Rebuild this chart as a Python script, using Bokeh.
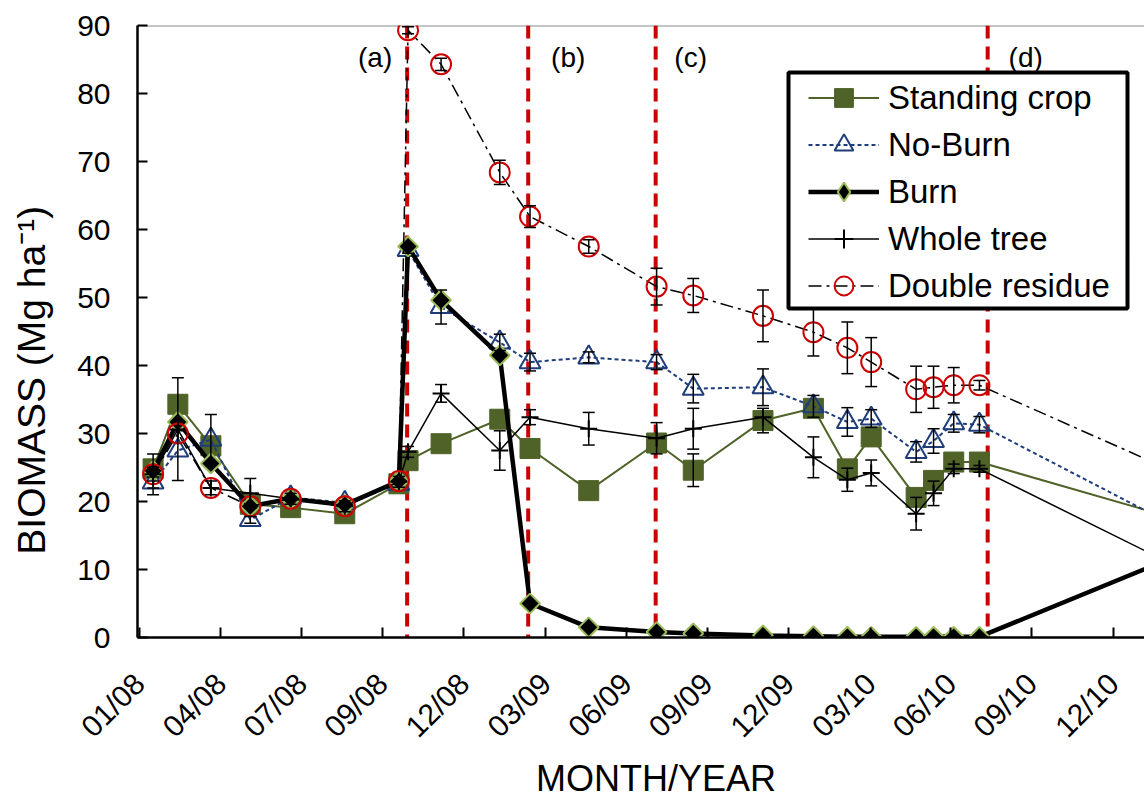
import math
import pandas as pd
from bokeh.plotting import figure
from bokeh.models import (ColumnDataSource, Range1d, FixedTicker, Span, Label, BoxAnnotation,
                          Whisker, TeeHead, Legend, LegendItem)
from bokeh.embed import file_html
from bokeh.resources import INLINE

# ---------------- data ----------------
sample_dates = ["2008-01-21", "2008-02-17", "2008-03-24", "2008-05-06", "2008-06-19",
                "2008-08-17", "2008-10-15", "2008-10-25", "2008-11-30", "2009-02-02",
                "2009-03-07", "2009-05-10", "2009-07-23", "2009-09-01", "2009-11-16",
                "2010-01-10", "2010-02-16", "2010-03-14", "2010-05-02", "2010-05-21",
                "2010-06-12", "2010-07-10", "2011-02-14"]

standing_crop = [24.8, 34.3, 28.2, 19.6, 19.1, 18.2, 22.6, 26.0, 28.5, 32.1, 27.8, 21.6,
                 28.6, 24.6, 31.9, 33.7, 24.8, 29.5, 20.6, 23.1, 25.8, 25.8, 17.3]
no_burn = [22.8, 27.5, 29.1, 17.3, 20.6, 19.8, 22.6, 57.0, 48.6, 43.4, 40.5, 41.2,
           40.5, 36.6, 36.8, 34.0, 31.7, 32.2, 27.3, 28.9, 31.5, 31.3, 16.0]
burn = [24.5, 31.7, 25.6, 19.3, 20.4, 19.5, 23.0, 57.5, 49.6, 41.5, 5.0, 1.5,
        0.8, 0.6, 0.3, 0.2, 0.1, 0.1, 0.1, 0.1, 0.1, 0.1, 12.2]
whole_tree = [24.0, 30.6, 22.0, 21.2, 20.4, 19.3, 22.9, 27.3, 35.9, 27.5, 32.4, 30.7,
              29.3, 30.7, 32.4, 26.5, 23.2, 24.2, 18.2, 21.2, 24.8, 24.8, 10.2]
double_residue = [24.0, 30.0, 22.0, 19.3, 20.4, 19.3, 23.0, 89.3, 84.3, 68.4, 61.9, 57.5,
                  51.6, 50.3, 47.3, 44.9, 42.6, 40.5, 36.5, 36.8, 37.1, 37.1, 24.0]

# half-length of the error bars (0 = no bar drawn)
standing_crop_err = [0, 3.9, 0, 0, 0, 0, 0, 0, 0, 0, 0, 0, 0, 2.4, 1.8, 0, 0, 0, 0, 0, 0, 0, 0]
no_burn_err = [0.8, 4.4, 3.7, 0.5, 0, 0, 0, 0.5, 2.5, 1.2, 1.3, 0.8, 1.1, 2.1, 2.7, 1.6,
               2.1, 1.3, 1.5, 1.8, 1.3, 1.2, 0]
burn_err = [0] * len(sample_dates)
whole_tree_err = [3.0, 0, 1.0, 2.2, 0.8, 0.8, 0.8, 0.8, 1.3, 2.9, 1.1, 2.4, 2.3, 3.0, 0,
                  3.0, 1.7, 1.9, 2.4, 1.8, 0.7, 0.5, 0]
double_residue_err = [1.0, 0, 0, 0, 0, 0, 0, 0.5, 0.9, 1.8, 1.6, 1.0, 2.7, 2.5, 3.8, 3.5,
                      3.8, 3.6, 3.4, 3.1, 2.6, 0.7, 0]

event_dates = ["2008-10-24", "2009-03-05", "2009-07-22", "2010-07-19"]
event_labels = ["(a)", "(b)", "(c)", "(d)"]

tick_labels = ["01/08", "04/08", "07/08", "09/08", "12/08", "03/09", "06/09",
               "09/09", "12/09", "03/10", "06/10", "09/10", "12/10"]

# ---------------- helpers ----------------
ORIGIN = pd.Timestamp("2008-01-01")


def to_days(ds):
    return [(pd.Timestamp(d) - ORIGIN).days for d in ds]


xs = to_days(sample_dates)
ev_x = to_days(event_dates)
AXIS_START_DAY = 5
AXIS_STEP_DAYS = 88.5
tick_pos = [int(round(AXIS_START_DAY + AXIS_STEP_DAYS * k)) for k in range(len(tick_labels))]

FONT = "Liberation Sans"
NBSP = "\u00a0"

p = figure(width=1144, height=801, output_backend="svg", toolbar_location=None,
           x_range=Range1d(3, 1101), y_range=Range1d(0, 90),
           min_border_left=137, min_border_right=0, min_border_top=25, min_border_bottom=164)
p.outline_line_color = None
p.grid.visible = False
p.background_fill_color = "white"
p.border_fill_color = "white"

# top frame line
p.add_layout(Span(location=90, dimension="width", line_color="#8c8c8c", line_width=2,
                  level="underlay"))

# event lines
for d in ev_x:
    p.add_layout(Span(location=d, dimension="height", line_color="#cc0000", line_width=4,
                      line_dash="13 8", level="underlay"))

label_offsets = [-32, 40, 35, 38]
for d, t, off in zip(ev_x, event_labels, label_offsets):
    p.add_layout(Label(x=d, y=85.3, text=t, x_offset=off, text_align="center",
                       text_baseline="middle", text_font=FONT, text_font_size="28px",
                       text_color="black"))

series = [
    ("Standing crop", standing_crop, standing_crop_err,
     dict(line_color="#4f6228", line_width=2),
     dict(marker="square", size=20, fill_color="#4f6228", line_color="#4f6228", line_width=1)),
    ("No-Burn", no_burn, no_burn_err,
     dict(line_color="#1f3d7a", line_width=2, line_dash="4 3"),
     dict(marker="triangle", size=21, fill_color=None, line_color="#1f3d7a", line_width=2)),
    ("Burn", burn, burn_err,
     dict(line_color="black", line_width=4.5),
     dict(marker="square", angle=math.pi / 4, size=14, fill_color="black",
          line_color="#9bbb59", line_width=2)),
    ("Whole tree", whole_tree, whole_tree_err,
     dict(line_color="black", line_width=1.5),
     dict(marker="cross", size=17, line_color="black", line_width=2)),
    ("Double residue", double_residue, double_residue_err,
     dict(line_color="black", line_width=1.5, line_dash="13 5 3 5"),
     dict(marker="circle", size=20, fill_color=None, line_color="#cc0000", line_width=2)),
]

items = []
for name, ys, errs, lkw, mkw in series:
    src = ColumnDataSource(dict(x=xs, y=ys))
    lr = p.line("x", "y", source=src, **lkw)
    legend_marker = None
    if mkw.get("angle"):
        # legend swatch for the rotated squares: a diamond hidden under the real markers
        legend_marker = p.scatter("x", "y", source=src, marker="diamond", size=18,
                                  fill_color=mkw["fill_color"], line_color=mkw["line_color"],
                                  line_width=mkw["line_width"])
    sr = p.scatter("x", "y", source=src, **mkw)
    if legend_marker is None:
        legend_marker = sr
    ex = [x for x, e in zip(xs, errs) if e > 0]
    eu = [y + e for y, e in zip(ys, errs) if e > 0]
    el = [y - e for y, e in zip(ys, errs) if e > 0]
    if ex:
        esrc = ColumnDataSource(dict(x=ex, upper=eu, lower=el))
        w = Whisker(source=esrc, base="x", upper="upper", lower="lower", dimension="height",
                    line_color="black", line_width=1.5, level="glyph",
                    upper_head=TeeHead(size=12, line_color="black", line_width=1.5),
                    lower_head=TeeHead(size=12, line_color="black", line_width=1.5))
        p.add_layout(w)
    items.append(LegendItem(label=name, renderers=[lr, legend_marker]))

# legend frame (screen offsets from the plot frame's bottom-left corner)
p.add_layout(BoxAnnotation(left=651, right=990, bottom=329, top=565,
                           left_units="screen", right_units="screen",
                           bottom_units="screen", top_units="screen",
                           fill_color="white", fill_alpha=1,
                           line_color="black", line_alpha=1, line_width=4))

legend = Legend(items=items, location=(671, 328), border_line_color=None,
                background_fill_alpha=0,
                label_text_font=FONT, label_text_font_size="33px", label_text_color="black",
                glyph_width=71, glyph_height=47, label_height=47,
                spacing=0, padding=0, label_standoff=9, margin=0)
p.add_layout(legend)

for ax in (p.xaxis[0], p.yaxis[0]):
    ax.axis_line_width = 2.5
    ax.axis_line_color = "black"
    ax.major_tick_line_width = 2
    ax.major_tick_line_color = "black"
    ax.major_tick_in = 10
    ax.major_tick_out = 0
    ax.minor_tick_line_color = None
    ax.major_label_text_font = FONT
    ax.major_label_text_font_size = "30px"
    ax.major_label_text_color = "black"
    ax.axis_label_text_font = FONT
    ax.axis_label_text_font_style = "normal"
    ax.axis_label_text_color = "black"

p.yaxis.ticker = FixedTicker(ticks=list(range(0, 91, 10)))
p.yaxis.major_label_standoff = 27
p.yaxis.axis_label = "BIOMASS (Mg ha\u207b\u00b9)" + NBSP * 9
p.yaxis.axis_label_text_font_size = "39px"
p.yaxis.axis_label_standoff = 21

p.xaxis.ticker = FixedTicker(ticks=tick_pos)
p.xaxis.major_label_overrides = {t: l for t, l in zip(tick_pos, tick_labels)}
p.xaxis.major_label_orientation = math.pi / 4
p.xaxis.major_label_standoff = 41
p.xaxis.axis_label = NBSP * 3 + "MONTH/YEAR"
p.xaxis.axis_label_text_font_size = "36px"
p.xaxis.axis_label_standoff = 0

open("out.html", "w").write(file_html(p, INLINE))
